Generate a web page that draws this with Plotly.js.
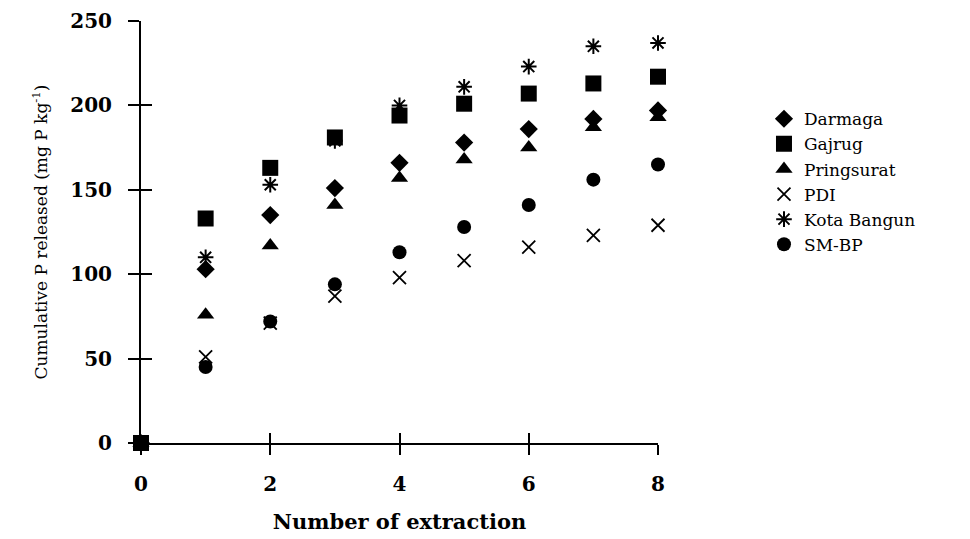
<!DOCTYPE html>
<html>
<head>
<meta charset="utf-8">
<script src="https://cdn.plot.ly/plotly-3.0.1.min.js"></script>
<style>html,body{margin:0;padding:0;background:#fff;}#chart{width:970px;height:539px;}</style>
</head>
<body>
<div id="chart"></div>
<script>
const extraction = [0, 1, 2, 3, 4, 5, 6, 7, 8];
const darmaga    = [0, 103, 135, 151, 166, 178, 186, 192, 197];
const gajrug     = [0, 133, 163, 181, 194, 201, 207, 213, 217];
const pringsurat = [0, 76, 117, 141, 157, 168, 175, 187, 193];
const pdi        = [0, 51, 71, 87, 98, 108, 116, 123, 129];
const kotaBangun = [0, 110, 153, 179, 200, 211, 223, 235, 237];
const smbp       = [0, 45, 72, 94, 113, 128, 141, 156, 165];
const yTicks = [0, 50, 100, 150, 200, 250];
const xTicks = [0, 2, 4, 6, 8];

const serif = "DejaVu Serif, Liberation Serif, serif";

function tr(name, y, symbol, size, lineW) {
  return {
    x: extraction, y: y, name: name, type: 'scatter', mode: 'markers',
    legendgroup: name, cliponaxis: false,
    marker: {symbol: symbol, size: size, color: '#000', line: {color: '#000', width: lineW}}
  };
}

const data = [
  tr('Darmaga', darmaga, 'diamond', 14, 0),
  tr('Gajrug', gajrug, 'square', 16, 0),
  tr('Pringsurat', pringsurat, 'triangle-up', 15, 0),
  tr('PDI', pdi, 'x-thin-open', 13, 1.8),
  tr('Kota Bangun', kotaBangun, 'asterisk-open', 13, 2),
  tr('SM-BP', smbp, 'circle', 14, 0),
  {x: [0, 8], y: [0, 250], xaxis: 'x2', yaxis: 'y2', mode: 'markers', marker: {opacity: 0}, showlegend: false, hoverinfo: 'skip'}
];

const layout = {
  width: 970, height: 539,
  paper_bgcolor: '#fff', plot_bgcolor: '#fff',
  margin: {l: 141, r: 312, t: 21, b: 96},
  showlegend: true,
  font: {family: serif, color: '#000'},
  xaxis: {
    range: [0, 8], tickvals: xTicks, ticktext: xTicks.map(String),
    showgrid: false, zeroline: false, showline: true, linecolor: '#000', linewidth: 2,
    ticks: 'outside', ticklen: 10, tickwidth: 2, tickcolor: '#000',
    ticklabelstandoff: 12,
    tickfont: {family: serif, size: 20, color: '#000', weight: 'bold'},
    title: {text: 'Number of extraction', font: {family: serif, size: 21, color: '#000', weight: 'bold'}, standoff: 19}
  },
  yaxis: {
    range: [0, 250], tickvals: yTicks, ticktext: yTicks.map(String),
    showgrid: false, zeroline: false, showline: true, linecolor: '#000', linewidth: 2,
    ticks: 'outside', ticklen: 11, tickwidth: 2, tickcolor: '#000',
    ticklabelstandoff: 12,
    tickfont: {family: serif, size: 20, color: '#000', weight: 'bold'},
    title: {text: 'Cumulative P released (mg P kg<sup>-1</sup>)', font: {family: serif, size: 17, color: '#000'}, standoff: 18}
  },
  xaxis2: {overlaying: 'x', range: [0, 8], tickvals: xTicks, showticklabels: false, ticks: 'inside', ticklen: 10, tickwidth: 2, tickcolor: '#000', showgrid: false, zeroline: false, showline: false},
  yaxis2: {overlaying: 'y', range: [0, 250], tickvals: yTicks, showticklabels: false, ticks: 'inside', ticklen: 11, tickwidth: 2, tickcolor: '#000', showgrid: false, zeroline: false, showline: false},
  legend: {
    x: 1.205, y: 0.81, xanchor: 'left', yanchor: 'top',
    font: {family: serif, size: 17, color: '#000'},
    itemwidth: 30, tracegroupgap: 0, bgcolor: 'rgba(0,0,0,0)'
  }
};

Plotly.newPlot('chart', data, layout, {displayModeBar: false, staticPlot: true});
</script>
</body>
</html>
